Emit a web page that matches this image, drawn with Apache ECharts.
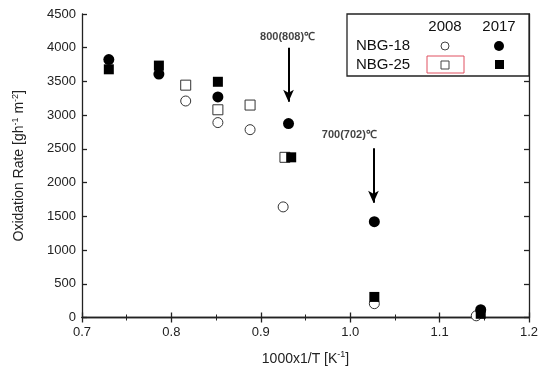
<!DOCTYPE html>
<html><head><meta charset="utf-8">
<script src="https://cdn.jsdelivr.net/npm/echarts@6/dist/echarts.min.js"></script>
<style>html,body{margin:0;padding:0;background:#fff}#c{width:542px;height:371px}</style>
</head><body><div id="c"></div>
<script>
// Data (x = 1000/T [1/K], y = oxidation rate)
var nbg18_2008 = [[0.816,3210],[0.852,2890],[0.888,2785],[0.925,1640],[1.027,205],[1.141,25]];
var nbg25_2008 = [[0.816,3445],[0.852,3080],[0.888,3150],[0.927,2375]];
var nbg18_2017 = [[0.730,3825],[0.786,3610],[0.852,3270],[0.931,2875],[1.027,1420],[1.146,115]];
var nbg25_2017 = [[0.730,3680],[0.786,3735],[0.852,3495],[0.934,2375],[1.027,305],[1.146,55]];
var xTicks = [0.7,0.8,0.9,1.0,1.1,1.2];
var yTicks = [0,500,1000,1500,2000,2500,3000,3500,4000,4500];
var arrows = [ {label:'800(808)℃', x:0.931, from:4000, to:3200, lx:0.930, ly:4160},
               {label:'700(702)℃', x:1.026, from:2510, to:1700, lx:0.999, ly:2700} ];

var chart = echarts.init(document.getElementById('c'));
var font = 'Liberation Sans, Arial, sans-serif';
var axisCommon = {
  axisLine:{show:true,lineStyle:{color:'#222',width:1.3}},
  axisTick:{show:true,inside:true,length:5,lineStyle:{color:'#222',width:1.3}},
  splitLine:{show:false}
};
var series = [
  {name:'NBG-18 2008',type:'scatter',data:nbg18_2008,symbol:'circle',symbolSize:10,
   itemStyle:{color:'#fff',borderColor:'#333',borderWidth:1,opacity:1}},
  {name:'NBG-25 2008',type:'scatter',data:nbg25_2008,symbol:'rect',symbolSize:10,
   itemStyle:{color:'#fff',borderColor:'#333',borderWidth:1,opacity:1}},
  {name:'NBG-18 2017',type:'scatter',data:nbg18_2017,symbol:'circle',symbolSize:11,
   itemStyle:{color:'#000',opacity:1}},
  {name:'NBG-25 2017',type:'scatter',data:nbg25_2017,symbol:'rect',symbolSize:10,
   itemStyle:{color:'#000',opacity:1}},
  {type:'line',data:[],silent:true,
   markLine:{silent:true,symbol:['none','arrow'],symbolSize:[8,12],
     lineStyle:{color:'#000',width:2,type:'solid',opacity:1},label:{show:false},
     data:arrows.map(function(a){return [{coord:[a.x,a.from]},{coord:[a.x,a.to]}];})}},
  {type:'scatter',data:arrows.map(function(a){return {value:[a.lx,a.ly],label:{show:true,formatter:a.label}};}),
   symbolSize:0,silent:true,
   label:{show:true,position:'inside',color:'#111',fontSize:11,fontWeight:'bold',fontFamily:font}}
];
chart.setOption({
  animation:false,
  backgroundColor:'#fff',
  grid:{left:82,right:13,top:14,bottom:50},
  xAxis:[
    Object.assign({type:'value',min:0.7,max:1.2,interval:0.1,position:'bottom',
      minorTick:{show:true,splitNumber:2,length:3,lineStyle:{color:'#222'}},
      axisLabel:{color:'#222',fontSize:13,fontFamily:font,margin:8,
        formatter:function(v){return v.toFixed(1);}},
      name:'{a|1000x1/T [K}{s|-1}{a|]}',nameLocation:'middle',nameGap:33,
      nameTextStyle:{rich:{a:{fontSize:14,color:'#222',fontFamily:font},s:{fontSize:9,color:'#222',fontFamily:font,verticalAlign:'top',padding:[0,0,8,0]}}}
    },axisCommon),
    Object.assign({type:'value',min:0.7,max:1.2,interval:0.1,position:'top',
      minorTick:{show:true,splitNumber:2,length:3,lineStyle:{color:'#222'}},
      axisLabel:{show:false}},axisCommon)
  ],
  yAxis:[
    Object.assign({type:'value',min:0,max:4500,interval:500,position:'left',
      axisLabel:{color:'#222',fontSize:13,fontFamily:font,margin:6,formatter:function(v){return String(v);}},
      name:'{a|Oxidation Rate [gh}{s|-1}{a| m}{s|-2}{a|]}',nameLocation:'middle',nameGap:54,nameRotate:90,
      nameTextStyle:{rich:{a:{fontSize:14,color:'#222',fontFamily:font},s:{fontSize:9,color:'#222',fontFamily:font,verticalAlign:'top',padding:[0,0,8,0]}}}
    },axisCommon),
    Object.assign({type:'value',min:0,max:4500,interval:500,position:'right',
      axisLabel:{show:false}},axisCommon)
  ],
  series:series,
  graphic:[
    {type:'rect',shape:{x:347,y:14,width:182,height:62},style:{fill:'#fff',stroke:'#222',lineWidth:1.3},z:100},
    {type:'text',x:445,y:27,style:{text:'2008',fontSize:15,fontFamily:font,fill:'#111',align:'center',verticalAlign:'middle'},z:101},
    {type:'text',x:499,y:27,style:{text:'2017',fontSize:15,fontFamily:font,fill:'#111',align:'center',verticalAlign:'middle'},z:101},
    {type:'text',x:356,y:46,style:{text:'NBG-18',fontSize:15,fontFamily:font,fill:'#111',align:'left',verticalAlign:'middle'},z:101},
    {type:'text',x:356,y:65,style:{text:'NBG-25',fontSize:15,fontFamily:font,fill:'#111',align:'left',verticalAlign:'middle'},z:101},
    {type:'circle',shape:{cx:445,cy:46,r:4},style:{fill:'#fff',stroke:'#444',lineWidth:1},z:101},
    {type:'circle',shape:{cx:499,cy:46,r:5},style:{fill:'#000'},z:101},
    {type:'rect',shape:{x:427,y:56,width:37,height:17},style:{fill:'none',stroke:'#e05060',lineWidth:1},z:101},
    {type:'rect',shape:{x:441,y:61,width:8,height:8},style:{fill:'#fff',stroke:'#444',lineWidth:1},z:101},
    {type:'rect',shape:{x:495,y:60,width:9,height:9},style:{fill:'#000'},z:101}
  ]
});
</script></body></html>
